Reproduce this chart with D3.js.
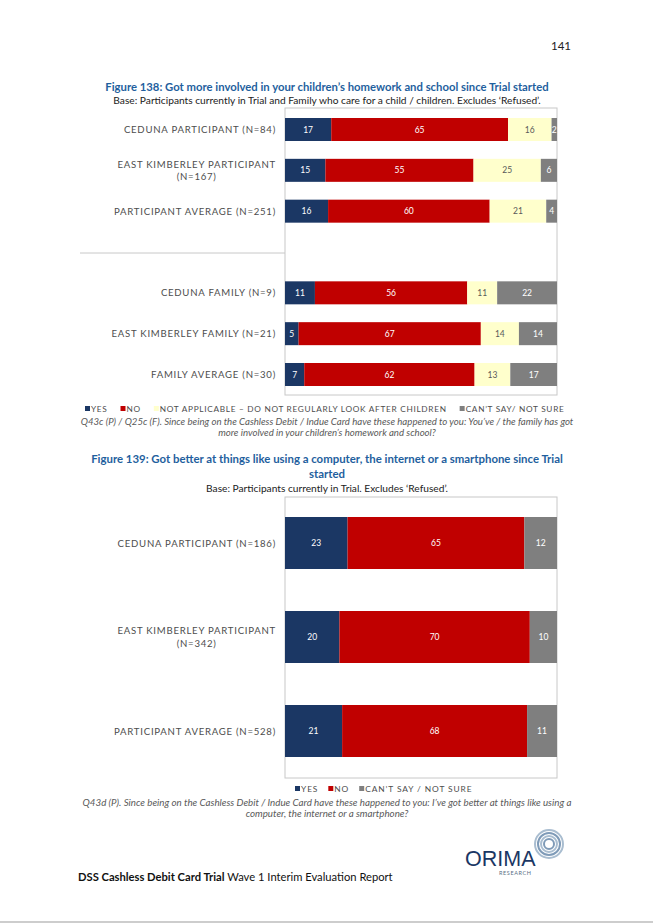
<!DOCTYPE html>
<html><head><meta charset="utf-8">
<script src="https://cdn.jsdelivr.net/npm/d3@7"></script>
<style>
html,body{margin:0;padding:0;background:#fff;}
svg{display:block;}
</style></head>
<body>
<script>
// ---------- DATA ----------
const seriesKeys138 = ["YES","NO","NOT APPLICABLE – DO NOT REGULARLY LOOK AFTER CHILDREN","CAN’T SAY/ NOT SURE"];
const categories138 = [
  "CEDUNA PARTICIPANT (N=84)",
  "EAST KIMBERLEY PARTICIPANT|(N=167)",
  "PARTICIPANT AVERAGE (N=251)",
  "",
  "CEDUNA FAMILY (N=9)",
  "EAST KIMBERLEY FAMILY (N=21)",
  "FAMILY AVERAGE (N=30)"
];
const yes138   = [17, 15, 16, null, 11, 5, 7];
const no138    = [65, 55, 60, null, 56, 67, 62];
const na138    = [16, 25, 21, null, 11, 14, 13];
const cant138  = [2, 6, 4, null, 22, 14, 17];

const seriesKeys139 = ["YES","NO","CAN’T SAY / NOT SURE"];
const categories139 = [
  "CEDUNA PARTICIPANT (N=186)",
  "EAST KIMBERLEY PARTICIPANT|(N=342)",
  "PARTICIPANT AVERAGE (N=528)"
];
const yes139  = [23, 20, 21];
const no139   = [65, 70, 68];
const cant139 = [12, 10, 11];

// ---------- STYLE ----------
const W = 653, H = 923;
const colors138 = ["#1B3764", "#C00000", "#FFFFCC", "#7F7F7F"];
const colors139 = ["#1B3764", "#C00000", "#7F7F7F"];
const labelFill138 = ["#fff", "#fff", "#595959", "#fff"];
const labelFill139 = ["#fff", "#fff", "#fff"];
const FONT = "Lato, 'Open Sans', sans-serif";

const svg = d3.select("body").append("svg").attr("width", W).attr("height", H)
  .style("font-family", FONT);

// page number
svg.append("text").attr("x", 571).attr("y", 50).attr("text-anchor", "end")
  .attr("font-size", 11.5).attr("fill", "#222").text("141");

function centerText(y, txt, opts) {
  return svg.append("text").attr("x", opts.x || 327).attr("y", y).attr("text-anchor", "middle")
    .attr("font-size", opts.size).attr("font-weight", opts.weight || "normal")
    .attr("font-style", opts.style || "normal").attr("fill", opts.fill || "#222")
    .text(txt);
}

// ---------- FIGURE 138 titles ----------
centerText(91, "Figure 138: Got more involved in your children’s homework and school since Trial started",
  {size: 11.3, weight: "bold", fill: "#1F5F9E"});
centerText(104, "Base: Participants currently in Trial and Family who care for a child / children. Excludes ‘Refused’.",
  {size: 10.2, fill: "#222"});

const x = d3.scaleLinear().domain([0, 1]).range([285, 557]);

function drawChart(cfg) {
  const g = svg.append("g");
  // frame
  g.append("rect").attr("x", x(0)).attr("y", cfg.frameTop)
    .attr("width", x(1) - x(0)).attr("height", cfg.frameBottom - cfg.frameTop)
    .attr("fill", "none").attr("stroke", "#C8C8C8").attr("stroke-width", 1);

  const rows = cfg.categories.map((c, i) => {
    const o = {cat: c};
    cfg.keys.forEach((k, j) => o[k] = cfg.values[j][i] || 0);
    return o;
  });
  const stack = d3.stack().keys(cfg.keys).offset(d3.stackOffsetExpand);
  const series = stack(rows);
  const y = d3.scalePoint().domain(cfg.categories.map((c, i) => i)).range(cfg.yRange);

  series.forEach((s, si) => {
    const sg = g.append("g");
    s.forEach((d, i) => {
      const raw = cfg.values[si][i];
      if (raw == null) return;
      sg.append("rect").attr("x", x(d[0])).attr("y", y(i) - cfg.barH / 2)
        .attr("width", x(d[1]) - x(d[0])).attr("height", cfg.barH)
        .attr("fill", cfg.colors[si]);
      sg.append("text").attr("x", (x(d[0]) + x(d[1])) / 2).attr("y", y(i) + 3)
        .attr("text-anchor", "middle").attr("font-size", 8.5)
        .attr("fill", cfg.labelFill[si]).text(raw);
    });
  });

  // category labels
  cfg.categories.forEach((c, i) => {
    if (!c) return;
    const lines = c.split("|");
    const t = g.append("text").attr("font-size", 9.6).attr("fill", "#4D4D4D")
      .attr("letter-spacing", 0.75).attr("text-anchor", "middle");
    const lh = 12.5;
    const y0 = y(i) + 3.5 - (lines.length - 1) * lh / 2;
    lines.forEach((l, li) => t.append("tspan").attr("y", y0 + li * lh).text(l));
    // right-align the block at labelRight
    const w = d3.max(t.selectAll("tspan").nodes(), n => n.getComputedTextLength());
    t.selectAll("tspan").attr("x", cfg.labelRight - w / 2);
  });
  return {y};
}

const c138 = drawChart({
  categories: categories138, keys: seriesKeys138,
  values: [yes138, no138, na138, cant138],
  colors: colors138, labelFill: labelFill138,
  frameTop: 108, frameBottom: 395, yRange: [129.5, 374.5], barH: 23, labelRight: 276
});
// separator between participant and family groups
const gapIdx = categories138.indexOf("");
svg.append("line").attr("x1", 80).attr("x2", x(0))
  .attr("y1", c138.y(gapIdx) + 1).attr("y2", c138.y(gapIdx) + 1)
  .attr("stroke", "#C8C8C8").attr("stroke-width", 1);

function legend(items, colors, startX, y, gap, size, ls) {
  let cx = startX;
  items.forEach((it, i) => {
    svg.append("rect").attr("x", cx).attr("y", y - 6).attr("width", 5).attr("height", 5)
      .attr("fill", colors[i]);
    const t = svg.append("text").attr("x", cx + 6).attr("y", y).attr("font-size", size)
      .attr("fill", "#4D4D4D").attr("letter-spacing", ls).text(it);
    cx += 6 + t.node().getComputedTextLength() + gap;
  });
}
legend(seriesKeys138, colors138, 85, 412, 13, 8.25, 0.7);

centerText(425, "Q43c (P) / Q25c (F). Since being on the Cashless Debit / Indue Card have these happened to you: You’ve / the family has got",
  {size: 9.65, style: "italic", fill: "#595959"});
centerText(436, "more involved in your children’s homework and school?",
  {size: 9.65, style: "italic", fill: "#595959"});

// ---------- FIGURE 139 ----------
centerText(463, "Figure 139: Got better at things like using a computer, the internet or a smartphone since Trial",
  {size: 11.4, weight: "bold", fill: "#1F5F9E"});
centerText(478, "started", {size: 11.4, weight: "bold", fill: "#1F5F9E"});
centerText(492, "Base: Participants currently in Trial. Excludes ‘Refused’.", {size: 10.2, fill: "#222"});

drawChart({
  categories: categories139, keys: seriesKeys139,
  values: [yes139, no139, cant139],
  colors: colors139, labelFill: labelFill139,
  frameTop: 497, frameBottom: 778, yRange: [543, 731], barH: 52, labelRight: 276
});
legend(seriesKeys139, colors139, 295, 792, 10, 8.4, 0.9);

centerText(806, "Q43d (P). Since being on the Cashless Debit / Indue Card have these happened to you: I’ve got better at things like using a",
  {size: 9.75, style: "italic", fill: "#595959"});
centerText(817, "computer, the internet or a smartphone?", {size: 9.75, style: "italic", fill: "#595959"});

// ---------- FOOTER ----------
const ft = svg.append("text").attr("x", 78).attr("y", 881).attr("font-size", 11.2).attr("fill", "#111");
ft.append("tspan").attr("font-weight", "bold").text("DSS Cashless Debit Card Trial");
ft.append("tspan").text(" Wave 1 Interim Evaluation Report");

// logo
const logo = svg.append("g");
[14, 11, 8, 5].forEach((r, i) => {
  logo.append("circle").attr("cx", 549).attr("cy", 844).attr("r", r)
    .attr("fill", "none").attr("stroke", ["#A9BDD0", "#7F9BB8", "#A9BDD0", "#7F9BB8"][i]).attr("stroke-width", 2);
});
logo.append("text").attr("x", 465).attr("y", 866).attr("font-size", 21.5).attr("fill", "#1B3764")
  .attr("font-family", "'Liberation Sans', Arial, sans-serif").text("ORIMA");
logo.append("text").attr("x", 499).attr("y", 875).attr("font-size", 5.5).attr("fill", "#5A6E85")
  .attr("letter-spacing", 0.6).text("RESEARCH");

// bottom rule
svg.append("line").attr("x1", 0).attr("x2", W).attr("y1", 922).attr("y2", 922)
  .attr("stroke", "#BDBDBD").attr("stroke-width", 1.5);
</script>
</body></html>
